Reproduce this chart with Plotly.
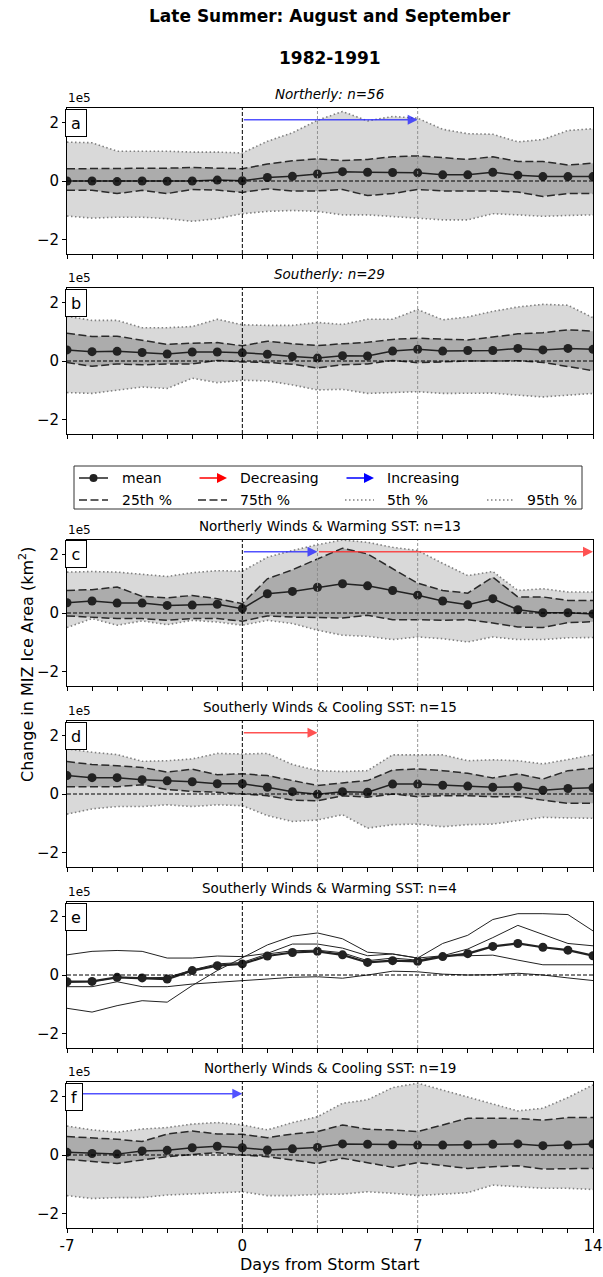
import plotly.graph_objects as go

W, H = 603, 1277
FONT = "DejaVu Sans"

days = list(range(-7, 15))

# ---- values in units of 1e5 km^2 ----
# a: Northerly, n=56
a_mean = [0.00, 0.00, -0.02, 0.00, -0.01, 0.00, 0.03, 0.01, 0.12, 0.16, 0.24, 0.32, 0.30, 0.29, 0.28, 0.21, 0.21, 0.30, 0.20, 0.15, 0.15, 0.15]
a_p75 = [0.42, 0.42, 0.42, 0.42, 0.44, 0.46, 0.44, 0.42, 0.58, 0.69, 0.76, 0.70, 0.74, 0.83, 0.86, 0.79, 0.74, 0.83, 0.67, 0.67, 0.55, 0.61]
a_p25 = [-0.32, -0.32, -0.43, -0.32, -0.43, -0.29, -0.31, -0.39, -0.27, -0.34, -0.34, -0.29, -0.50, -0.43, -0.29, -0.34, -0.34, -0.34, -0.38, -0.53, -0.43, -0.43]
a_p95 = [1.33, 1.31, 1.02, 1.02, 1.02, 0.99, 0.99, 0.96, 1.36, 1.65, 2.08, 2.38, 2.06, 2.21, 2.15, 1.77, 1.62, 1.60, 1.34, 1.42, 1.73, 1.79]
a_p5 = [-1.20, -1.27, -1.24, -1.24, -1.29, -1.38, -1.29, -1.12, -1.04, -1.01, -1.04, -1.16, -1.16, -1.21, -1.27, -1.33, -1.33, -1.12, -1.16, -1.21, -1.18, -1.16]

# b: Southerly, n=29
b_mean = [0.38, 0.32, 0.33, 0.29, 0.24, 0.31, 0.31, 0.28, 0.23, 0.15, 0.10, 0.18, 0.17, 0.34, 0.40, 0.34, 0.36, 0.36, 0.43, 0.38, 0.43, 0.40]
b_p75 = [0.95, 0.84, 0.85, 0.72, 0.57, 0.61, 0.63, 0.52, 0.68, 0.59, 0.53, 0.59, 0.64, 0.74, 0.78, 0.75, 0.72, 0.82, 0.93, 0.97, 1.07, 1.02]
b_p25 = [-0.05, -0.18, -0.10, -0.13, -0.10, -0.10, 0.02, -0.03, -0.05, -0.11, -0.24, -0.13, -0.10, 0.02, -0.06, -0.02, 0.00, 0.00, 0.01, -0.05, -0.20, -0.33]
b_p95 = [1.53, 1.39, 1.39, 1.14, 1.14, 1.18, 1.43, 1.24, 1.22, 1.22, 1.32, 1.25, 1.43, 1.43, 1.76, 1.41, 1.51, 1.70, 1.85, 1.94, 1.91, 1.48]
b_p5 = [-1.08, -1.11, -1.00, -0.89, -0.94, -0.59, -0.74, -0.66, -0.68, -0.82, -0.99, -0.97, -1.11, -1.08, -1.05, -1.11, -1.11, -1.10, -1.17, -1.23, -1.17, -1.11]

# c: Northerly Winds & Warming SST, n=13
c_mean = [0.35, 0.41, 0.34, 0.34, 0.26, 0.27, 0.30, 0.15, 0.66, 0.74, 0.88, 1.00, 0.93, 0.77, 0.61, 0.41, 0.28, 0.49, 0.11, 0.01, 0.01, -0.03]
c_p75 = [0.77, 0.80, 0.89, 0.57, 0.52, 0.60, 0.49, 0.32, 1.17, 1.48, 1.85, 2.22, 2.02, 1.51, 1.02, 0.77, 0.68, 1.23, 0.55, 0.55, 0.43, 0.43]
c_p25 = [-0.10, -0.14, -0.19, -0.19, -0.25, -0.19, -0.19, -0.28, -0.10, -0.14, -0.16, -0.17, -0.08, -0.23, -0.23, -0.25, -0.23, -0.34, -0.48, -0.50, -0.33, -0.30]
c_p95 = [1.40, 1.42, 1.40, 1.32, 1.25, 1.38, 1.45, 1.43, 1.91, 2.14, 2.34, 2.50, 2.42, 2.25, 2.14, 1.70, 1.28, 1.42, 0.77, 0.83, 0.72, 0.72]
c_p5 = [-0.50, -0.19, -0.42, -0.27, -0.40, -0.25, -0.31, -0.42, -0.25, -0.36, -0.59, -0.76, -0.80, -0.91, -0.82, -0.88, -0.99, -0.82, -0.91, -0.91, -0.85, -0.84]

# d: Southerly Winds & Cooling SST, n=15
d_mean = [0.63, 0.56, 0.56, 0.49, 0.45, 0.42, 0.35, 0.35, 0.23, 0.08, -0.01, 0.08, 0.06, 0.34, 0.34, 0.30, 0.27, 0.23, 0.25, 0.13, 0.19, 0.21]
d_p75 = [1.11, 1.01, 0.97, 0.91, 0.75, 0.85, 0.66, 0.69, 0.63, 0.46, 0.29, 0.38, 0.46, 0.82, 0.86, 0.80, 0.71, 0.55, 0.69, 0.51, 0.80, 0.88]
d_p25 = [0.25, 0.24, 0.25, 0.32, 0.15, 0.09, 0.06, 0.00, -0.06, -0.21, -0.23, -0.06, -0.11, 0.00, -0.09, -0.06, -0.06, -0.09, -0.09, -0.21, -0.32, -0.32]
d_p95 = [1.54, 1.43, 1.35, 1.12, 1.14, 1.20, 1.39, 1.37, 1.39, 1.01, 0.80, 0.77, 0.80, 1.34, 1.34, 1.34, 1.14, 1.17, 1.14, 1.03, 1.18, 1.34]
d_p5 = [-0.69, -0.51, -0.43, -0.43, -0.37, -0.43, -0.37, -0.40, -0.74, -0.94, -0.89, -0.71, -1.17, -1.05, -1.03, -1.12, -1.05, -1.03, -0.91, -0.80, -0.82, -0.83]

# e: Southerly Winds & Warming SST, n=4 (individual storms + mean)
e_mean = [-0.23, -0.22, -0.08, -0.10, -0.14, 0.15, 0.32, 0.38, 0.65, 0.77, 0.81, 0.69, 0.43, 0.49, 0.47, 0.63, 0.73, 0.98, 1.08, 0.95, 0.85, 0.66]
e_storm1 = [0.69, 0.81, 0.84, 0.81, 0.58, 0.58, 0.65, 0.63, 0.74, 1.06, 1.06, 0.92, 0.66, 0.72, 0.58, 0.66, 0.66, 0.68, 0.51, 0.35, 0.35, 0.35]
e_storm2 = [-0.25, -0.23, -0.08, -0.10, -0.08, 0.17, 0.38, 0.43, 0.72, 0.83, 0.85, 0.76, 0.49, 0.58, 0.51, 0.66, 0.89, 1.28, 1.70, 1.40, 1.08, 1.00]
e_storm3 = [-0.40, -0.40, -0.23, -0.40, -0.40, -0.31, -0.25, -0.19, -0.14, -0.08, -0.06, -0.11, 0.00, 0.13, 0.11, 0.03, 0.00, 0.01, 0.06, 0.00, -0.10, -0.19]
e_storm4 = [-1.14, -1.27, -1.05, -0.88, -0.93, -0.36, 0.15, 0.58, 1.03, 1.33, 1.44, 1.24, 0.78, 0.72, 0.58, 1.08, 1.36, 1.90, 2.10, 2.10, 2.07, 1.51]

# f: Northerly Winds & Cooling SST, n=19
f_mean = [0.09, 0.05, 0.03, 0.14, 0.16, 0.25, 0.30, 0.25, 0.17, 0.21, 0.26, 0.38, 0.37, 0.35, 0.34, 0.34, 0.35, 0.37, 0.38, 0.32, 0.34, 0.38]
f_p75 = [0.63, 0.59, 0.54, 0.46, 0.72, 0.82, 0.72, 0.71, 0.59, 0.72, 0.80, 1.03, 0.88, 0.86, 0.80, 1.03, 1.26, 1.26, 1.25, 1.19, 1.28, 1.28]
f_p25 = [-0.15, -0.23, -0.29, -0.17, -0.06, 0.02, 0.08, 0.00, -0.06, -0.17, -0.29, -0.11, -0.26, -0.42, -0.26, -0.37, -0.46, -0.40, -0.37, -0.48, -0.48, -0.46]
f_p95 = [0.99, 0.86, 0.78, 0.89, 0.94, 1.06, 1.11, 1.03, 0.86, 1.11, 1.31, 1.77, 1.89, 2.31, 2.46, 2.22, 1.98, 1.75, 1.51, 1.60, 1.97, 2.40]
f_p5 = [-1.39, -1.49, -1.46, -1.46, -1.37, -1.34, -1.29, -1.26, -1.39, -1.39, -1.35, -1.34, -1.26, -1.31, -1.39, -1.35, -1.29, -1.03, -1.09, -1.14, -1.14, -1.18]

panel_titles = [
    "<i>Northerly: n=56</i>",
    "<i>Southerly: n=29</i>",
    "Northerly Winds & Warming SST: n=13",
    "Southerly Winds & Cooling SST: n=15",
    "Southerly Winds & Warming SST: n=4",
    "Northerly Winds & Cooling SST: n=19",
]
panel_letters = ["a", "b", "c", "d", "e", "f"]

# trend arrows per panel: (start day, end day, kind)
arrows = {
    0: [(0, 7, "inc")],
    2: [(0, 3, "inc"), (3, 14, "dec")],
    3: [(0, 3, "dec")],
    5: [(-7, 0, "inc")],
}
ARROW_Y = 2.1
ARROW_COL = {"inc": "rgba(40,40,255,0.8)", "dec": "rgba(255,40,40,0.8)"}

x_ticktext_bottom = ["-7", "", "", "", "", "", "", "0", "", "", "", "", "", "", "7", "", "", "", "", "", "", "14"]

# layout geometry (pixels)
X0, X1 = 67, 593
panel_tops = [108, 288, 540, 721, 902, 1082]
PANEL_H = 146
YMIN, YMAX = -2.5, 2.5

LIGHT = "#d9d9d9"
DARK = "#acacac"
MEAN_COL = "#222222"


def px(xp):
    return xp / W


def py(yp):
    return 1 - yp / H


fig = go.Figure()
layout_axes = {}
shapes = []
annotations = []


def add_band_panel(i, p5, p25, mean, p75, p95):
    xa = "x" if i == 0 else f"x{i+1}"
    ya = "y" if i == 0 else f"y{i+1}"
    common = dict(x=days, xaxis=xa, yaxis=ya, showlegend=False, hoverinfo="skip")
    # shaded ranges
    fig.add_trace(go.Scatter(y=p5, mode="lines", line=dict(width=0), **common))
    fig.add_trace(go.Scatter(y=p95, mode="lines", line=dict(width=0), fill="tonexty", fillcolor=LIGHT, **common))
    fig.add_trace(go.Scatter(y=p25, mode="lines", line=dict(width=0), **common))
    fig.add_trace(go.Scatter(y=p75, mode="lines", line=dict(width=0), fill="tonexty", fillcolor=DARK, **common))
    # percentile outlines
    for s in (p5, p95):
        fig.add_trace(go.Scatter(y=s, mode="lines", line=dict(color="#808080", width=1.6, dash="1.5px,2.5px"), **common))
    for s in (p25, p75):
        fig.add_trace(go.Scatter(y=s, mode="lines", line=dict(color="#2a2a2a", width=1.5, dash="8px,3.5px"), **common))
    fig.add_trace(go.Scatter(y=mean, mode="lines+markers", line=dict(color=MEAN_COL, width=1.5),
                             marker=dict(color=MEAN_COL, size=9), **common))


add_band_panel(0, a_p5, a_p25, a_mean, a_p75, a_p95)
add_band_panel(1, b_p5, b_p25, b_mean, b_p75, b_p95)
add_band_panel(2, c_p5, c_p25, c_mean, c_p75, c_p95)
add_band_panel(3, d_p5, d_p25, d_mean, d_p75, d_p95)

# panel e: individual storms and their mean
for s in (e_storm1, e_storm2, e_storm3, e_storm4):
    fig.add_trace(go.Scatter(x=days, y=s, xaxis="x5", yaxis="y5", mode="lines",
                             line=dict(color="#222222", width=1), showlegend=False, hoverinfo="skip"))
fig.add_trace(go.Scatter(x=days, y=e_mean, xaxis="x5", yaxis="y5", mode="lines+markers",
                         line=dict(color=MEAN_COL, width=2.2), marker=dict(color=MEAN_COL, size=9),
                         showlegend=False, hoverinfo="skip"))

add_band_panel(5, f_p5, f_p25, f_mean, f_p75, f_p95)

for i, top in enumerate(panel_tops):
    bottom = top + PANEL_H
    xname = "xaxis" if i == 0 else f"xaxis{i+1}"
    yname = "yaxis" if i == 0 else f"yaxis{i+1}"
    xa = "x" if i == 0 else f"x{i+1}"
    ya = "y" if i == 0 else f"y{i+1}"
    last = i == len(panel_tops) - 1
    layout_axes[xname] = dict(
        domain=[px(X0), px(X1)], range=[-7, 14], anchor=ya, automargin=False,
        tickmode="array", tickvals=days,
        ticktext=x_ticktext_bottom if last else [""] * len(days),
        ticks="outside", ticklen=4, tickwidth=1, tickcolor="black",
        showline=True, linecolor="black", linewidth=1, mirror=True,
        showgrid=False, zeroline=False,
        tickfont=dict(family=FONT, size=15, color="black"),
    )
    layout_axes[yname] = dict(
        domain=[py(bottom), py(top)], range=[YMIN, YMAX], anchor=xa, automargin=False,
        tickmode="array", tickvals=[-2, 0, 2], ticktext=["\u22122", "0", "2"],
        ticks="outside", ticklen=4, tickwidth=1, tickcolor="black",
        showline=True, linecolor="black", linewidth=1, mirror=True,
        showgrid=False, zeroline=False,
        tickfont=dict(family=FONT, size=15, color="black"),
    )
    # reference lines: storm start, day 3, day 7 and zero change
    shapes.append(dict(type="line", xref=xa, yref=f"{ya} domain", x0=0, x1=0, y0=0, y1=1,
                       line=dict(color="black", width=1, dash="4px,2px"), layer="above"))
    for d in (3, 7):
        shapes.append(dict(type="line", xref=xa, yref=f"{ya} domain", x0=d, x1=d, y0=0, y1=1,
                           line=dict(color="#8a8a8a", width=0.9, dash="3px,2px"), layer="above"))
    shapes.append(dict(type="line", xref=f"{xa} domain", yref=ya, x0=0, x1=1, y0=0, y1=0,
                       line=dict(color="black", width=1, dash="4px,2px"), layer="above"))

    # panel title and offset label
    annotations.append(dict(text=panel_titles[i], xref="paper", yref="paper",
                            x=px((X0 + X1) / 2), y=py(top - 4), xanchor="center", yanchor="bottom",
                            showarrow=False, font=dict(family=FONT, size=13.5, color="black")))
    annotations.append(dict(text="1e5", xref="paper", yref="paper",
                            x=px(X0 - 1), y=py(top - 1), xanchor="left", yanchor="bottom",
                            showarrow=False, font=dict(family=FONT, size=12, color="black")))

    # trend arrows
    for (s, e, kind) in arrows.get(i, []):
        annotations.append(dict(x=e, y=ARROW_Y, ax=s, ay=ARROW_Y, xref=xa, yref=ya, axref=xa, ayref=ya,
                                text="", showarrow=True, arrowhead=2, arrowsize=1.25, arrowwidth=1.6,
                                arrowcolor=ARROW_COL[kind], standoff=0, startstandoff=0))

# panel letters boxed in the upper-left corner
for i, top in enumerate(panel_tops):
    annotations.append(dict(text=panel_letters[i], xref="paper", yref="paper",
                            x=px(X0 - 2), y=py(top + 0.5), xanchor="left", yanchor="top",
                            showarrow=False, bgcolor="white", bordercolor="black", borderwidth=1,
                            width=18 if panel_letters[i] != "f" else 14, height=24, align="center",
                            valign="middle", font=dict(family=FONT, size=16, color="black")))

# ---- legend (drawn between panels b and c) ----
LX0, LX1, LY0, LY1 = 74, 582, 466, 509
shapes.append(dict(type="rect", xref="paper", yref="paper", x0=px(LX0), x1=px(LX1), y0=py(LY1), y1=py(LY0),
                   line=dict(color="#333333", width=1), fillcolor="white", layer="above"))
row1, row2 = 478, 500
hx = [(79, 108), (198, 227), (345, 374), (487, 515)]
tx = [120, 238, 385, 525]

# mean handle
shapes.append(dict(type="line", xref="paper", yref="paper", x0=px(hx[0][0]), x1=px(hx[0][1]),
                   y0=py(row1), y1=py(row1), line=dict(color=MEAN_COL, width=1.5), layer="above"))
shapes.append(dict(type="circle", xref="paper", yref="paper",
                   x0=px((hx[0][0] + hx[0][1]) / 2 - 4), x1=px((hx[0][0] + hx[0][1]) / 2 + 4),
                   y0=py(row1 + 4), y1=py(row1 - 4), fillcolor=MEAN_COL, line=dict(width=0), layer="above"))
# arrow handles
for (h, col) in ((hx[1], "#ff0000"), (hx[2], "#0000ff")):
    annotations.append(dict(x=px(h[1]), y=py(row1), xref="paper", yref="paper",
                            ax=-(h[1] - h[0]), ay=0, axref="pixel", ayref="pixel",
                            text="", showarrow=True, arrowhead=2, arrowsize=1.25, arrowwidth=1.6,
                            arrowcolor=col, standoff=0))
# percentile handles
for (h, style) in ((hx[0], "dash"), (hx[1], "dash"), (hx[2], "dot"), (hx[3], "dot")):
    if style == "dash":
        ln = dict(color="#2a2a2a", width=1.5, dash="8px,3.5px")
    else:
        ln = dict(color="#808080", width=1.6, dash="1.5px,2.5px")
    shapes.append(dict(type="line", xref="paper", yref="paper", x0=px(h[0]), x1=px(h[1]),
                       y0=py(row2), y1=py(row2), line=ln, layer="above"))

legend_labels = [("mean", 0, row1), ("Decreasing", 1, row1), ("Increasing", 2, row1),
                 ("25th %", 0, row2), ("75th %", 1, row2), ("5th %", 2, row2), ("95th %", 3, row2)]
for (lab, c, r) in legend_labels:
    annotations.append(dict(text=lab, xref="paper", yref="paper", x=px(tx[c]), y=py(r),
                            xanchor="left", yanchor="middle", showarrow=False,
                            font=dict(family=FONT, size=14, color="black")))

# ---- figure titles and axis labels ----
annotations.append(dict(text="<b>Late Summer: August and September</b>", xref="paper", yref="paper",
                        x=px(330), y=py(16), xanchor="center", yanchor="middle", showarrow=False,
                        font=dict(family=FONT, size=17, color="black")))
annotations.append(dict(text="<b>1982-1991</b>", xref="paper", yref="paper",
                        x=px(330), y=py(58), xanchor="center", yanchor="middle", showarrow=False,
                        font=dict(family=FONT, size=17, color="black")))
annotations.append(dict(text="Change in MIZ Ice Area (km<sup>2</sup>)", xref="paper", yref="paper",
                        x=px(27), y=py(665), xanchor="center", yanchor="middle", textangle=-90,
                        showarrow=False, font=dict(family=FONT, size=16, color="black")))
annotations.append(dict(text="Days from Storm Start", xref="paper", yref="paper",
                        x=px(330), y=py(1264), xanchor="center", yanchor="middle",
                        showarrow=False, font=dict(family=FONT, size=16, color="black")))

fig.update_layout(
    width=W, height=H, autosize=False,
    margin=dict(l=0, r=0, t=0, b=0, autoexpand=False),
    paper_bgcolor="white", plot_bgcolor="white",
    showlegend=False,
    shapes=shapes, annotations=annotations,
    font=dict(family=FONT, color="black"),
    **layout_axes,
)

fig.write_html("out.html")
